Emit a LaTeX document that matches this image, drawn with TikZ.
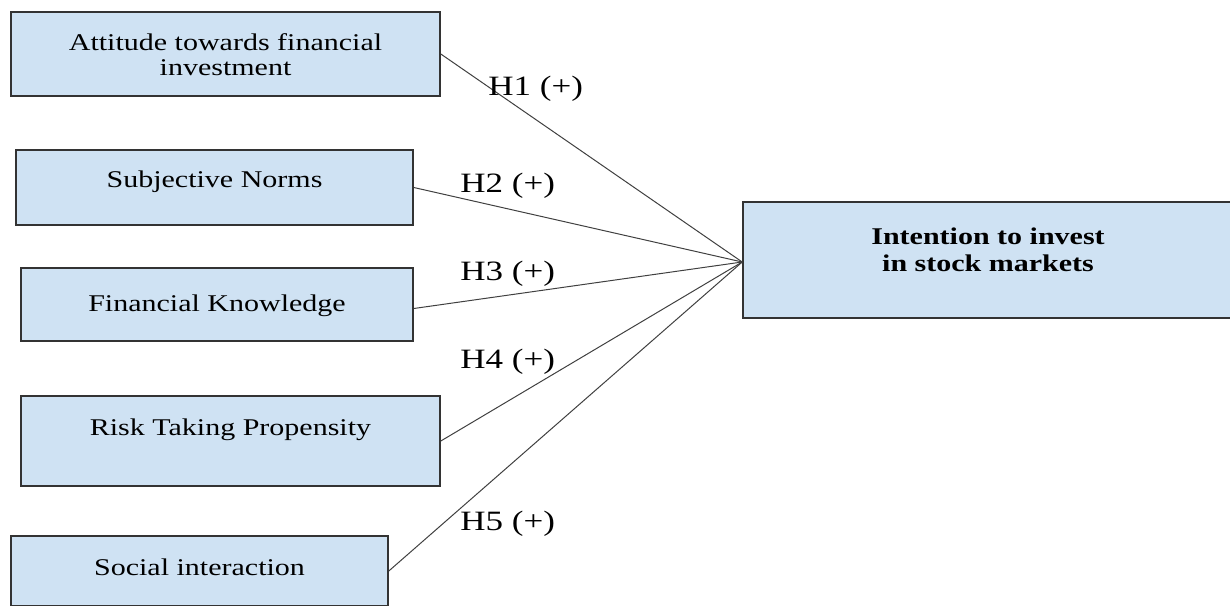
\documentclass[tikz,border=0pt]{standalone}
\usepackage{fontspec}
\setmainfont{Liberation Serif}[FakeStretch=1.25]
\usetikzlibrary{positioning}
\definecolor{boxblue}{RGB}{207,226,243}
\tikzset{
	factor/.style   = {draw=black!80, line width=0.8pt, fill=boxblue, rectangle, inner sep=0pt},
	factxt/.style   = {inner sep=0pt, align=center, font=\fontsize{12}{12.5}\selectfont},
	goaltxt/.style  = {inner sep=0pt, align=center, font=\fontsize{12}{13.5}\selectfont\bfseries},
	hyp/.style      = {inner sep=0pt, anchor=base west, font=\fontsize{14}{16}\selectfont},
	link/.style     = {draw=black!75, line width=0.5pt},
	hub/.style      = {coordinate} % meeting point
}

\begin{document}
\begin{tikzpicture}[x=0.5pt, y=-0.5pt]
	\useasboundingbox (0,0) rectangle (1230,605);
	\draw
	node at (225.5,54) [factor, minimum width=214.5pt, minimum height=42pt] (f1) {}
	node at (214.5,187.5) [factor, minimum width=198.5pt, minimum height=37.5pt] (f2) {}
	node at (217,304.5) [factor, minimum width=196pt, minimum height=36.5pt] (f3) {}
	node at (230.5,441) [factor, minimum width=209.5pt, minimum height=45pt] (f4) {}
	node at (199.5,571) [factor, minimum width=188.5pt, minimum height=35pt] (f5) {}
	node at (988,260) [factor, minimum width=245pt, minimum height=58pt] (f6) {};

	% texts in the boxes
	\node[factxt] (t1) at ([yshift=-0.5pt]f1.center) {Attitude towards financial\\investment};
	\node[factxt, anchor=base] (t2) at ([yshift=-19pt]f2.north) {Subjective Norms};
	\node[factxt, anchor=base] (t3) at ([yshift=-22pt]f3.north) {Financial Knowledge};
	\node[factxt, anchor=base] (t4) at ([yshift=-20pt]f4.north) {Risk Taking Propensity};
	\node[factxt, anchor=base] (t5) at ([yshift=-20pt]f5.north) {Social interaction};
	\node[goaltxt] (t6) at ([yshift=5.25pt]f6.center) {Intention to invest\\in stock markets};

	\node[hub] (hb) at ([yshift=-1pt]f6.west) {};
	\draw[link] (f1.east) -- (hb);
	\draw[link] (f2.east) -- (hb);
	\draw[link] ([yshift=-2pt]f3.east) -- (hb);
	\draw[link] (f4.east) -- (hb);
	\draw[link] (f5.east) -- (hb);

	\draw
	node at (488,95) [hyp] (h1) {H1 (+)}
	node at (460,192) [hyp] (h2) {H2 (+)}
	node at (460,280) [hyp] (h3) {H3 (+)}
	node at (460,368) [hyp] (h4) {H4 (+)}
	node at (460,530) [hyp] (h5) {H5 (+)};
\end{tikzpicture}
\end{document}
